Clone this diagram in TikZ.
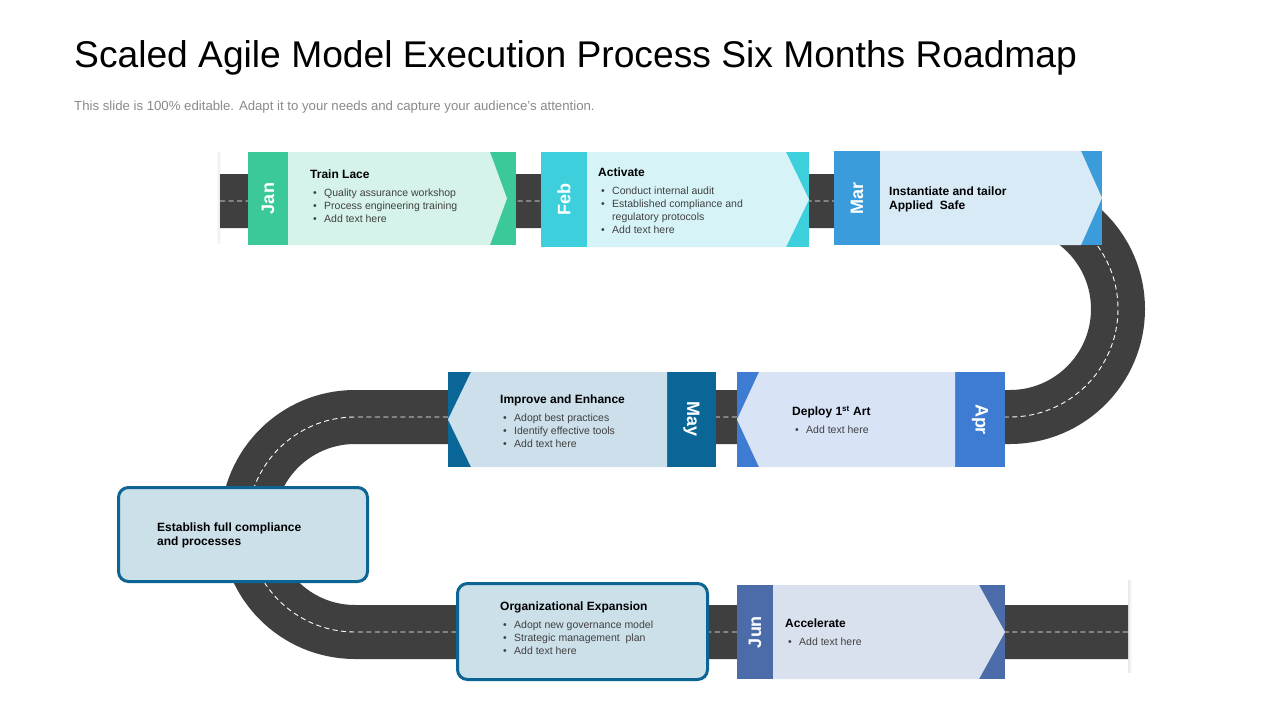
\documentclass[tikz,border=0pt]{standalone}
\usepackage{fontspec}
\setmainfont{Liberation Sans}
\definecolor{road}{HTML}{3F3F3F}
\definecolor{janS}{HTML}{3CC999}
\definecolor{janL}{HTML}{D5F3EA}
\definecolor{febS}{HTML}{3ECFDD}
\definecolor{febL}{HTML}{D6F4F8}
\definecolor{marS}{HTML}{3A9CDB}
\definecolor{marL}{HTML}{D7EAF6}
\definecolor{aprS}{HTML}{3E7BD3}
\definecolor{aprL}{HTML}{D8E3F6}
\definecolor{mayS}{HTML}{0B6698}
\definecolor{mayL}{HTML}{CCDFEA}
\definecolor{junS}{HTML}{4B6CA9}
\definecolor{junL}{HTML}{DAE1EE}
\definecolor{boxfill}{HTML}{CCE0EA}
\definecolor{boxline}{HTML}{0D6593}
\definecolor{bodytxt}{HTML}{404040}
\definecolor{subtxt}{HTML}{8A8A8A}
\newcommand\bl[1]{\hspace*{3pt}\makebox[11pt][l]{\textbullet}#1}
\newcommand\blc[1]{\hspace*{14pt}#1}
\begin{document}
\begin{tikzpicture}[x=1pt,y=-1pt,
  txt/.style={anchor=north west, inner sep=0pt, align=left, font=\fontsize{10.5}{13}\selectfont, text=bodytxt},
  hdtxt/.style={anchor=north west, inner sep=0pt, align=left, font=\bfseries\fontsize{12}{14}\selectfont, text=black},
  mon/.style={text=white, font=\bfseries\fontsize{18}{18}\selectfont, inner sep=0pt},
  cbox/.style={fill=boxfill, draw=boxline, line width=3pt, rounded corners=10pt}
]
\useasboundingbox (0,0) rectangle (1280,720);
\fill[white] (0,0) rectangle (1280,720);

% title
\node[anchor=base west, inner sep=0pt, font=\fontsize{37.2}{40}\selectfont] (title) at (74,67)
  {Scaled Agile Model Execution Process Six Months Roadmap};
\node[anchor=base west, inner sep=0pt, font=\fontsize{13.2}{15}\selectfont, text=subtxt] (subtitle) at (74,110)
  {This slide is 100\% editable. Adapt it to your needs and capture your audience's attention.};

% road end shadows
\shade[left color=white, right color=black!9] (216,152) rectangle (220,243);
\shade[left color=black!9, right color=white] (1128,580) rectangle (1132,672);

% road
\draw[road, line width=54pt, postaction={draw=white, line width=0.9pt, dash pattern=on 5pt off 3.5pt}]
  (220,201) -- (1010,201)
  .. controls (1069.6,201) and (1118,249.4) .. (1118,309)
  .. controls (1118,368.6) and (1069.6,417) .. (1010,417)
  -- (355,417)
  .. controls (295.6,417) and (247.5,465.1) .. (247.5,524.5)
  .. controls (247.5,583.9) and (295.6,632) .. (355,632)
  -- (1128,632);

% Jan
\fill[janS] (248,152) rectangle (516,245);
\fill[janL] (288,152) -- (490,152) -- (507,198.5) -- (490,245) -- (288,245) -- cycle;
\node[mon, rotate=90] (jan) at (268,198.5) {Jan};
% Feb
\fill[febS] (541,152) rectangle (809,247);
\fill[febL] (587,152) -- (786,152) -- (809,199.5) -- (786,247) -- (587,247) -- cycle;
\node[mon, rotate=90] (feb) at (564,199.5) {Feb};
% Mar
\fill[marS] (834,151) rectangle (1102,245);
\fill[marL] (880,151) -- (1081,151) -- (1102,198) -- (1081,245) -- (880,245) -- cycle;
\node[mon, rotate=90] (mar) at (857,198) {Mar};
% Apr
\fill[aprS] (737,372) rectangle (1005,467);
\fill[aprL] (759,372) -- (955,372) -- (955,467) -- (759,467) -- (737,419.5) -- cycle;
\node[mon, rotate=-90] (apr) at (980,419.5) {Apr};
% May
\fill[mayS] (448,372) rectangle (716,467);
\fill[mayL] (471,372) -- (667,372) -- (667,467) -- (471,467) -- (448,419.5) -- cycle;
\node[mon, rotate=-90] (may) at (691.5,419.5) {May};
% Jun
\fill[junS] (737,585) rectangle (1005,679);
\fill[junL] (773,585) -- (979,585) -- (1005,632) -- (979,679) -- (773,679) -- cycle;
\node[mon, rotate=90] (jun) at (755,632) {Jun};

% rounded boxes
\draw[cbox] (118.5,487.5) rectangle (367.5,581.5);
\draw[cbox] (457.5,583.5) rectangle (707.5,679.5);

% texts
\node[hdtxt] (janh) at (310,169.7) {Train Lace};
\node[txt] (janb) at (310,188.5) {\bl{Quality assurance workshop}\\\bl{Process engineering training}\\\bl{Add text here}};

\node[hdtxt] (febh) at (598,167.7) {Activate};
\node[txt] (febb) at (598,186.5) {\bl{Conduct internal audit}\\\bl{Established compliance and}\\\blc{regulatory protocols}\\\bl{Add text here}};

\node[hdtxt] (marh) at (889,186.7) {Instantiate and tailor\\Applied\ \ Safe};

\node[hdtxt] (aprh) at (792,406.7) {Deploy 1\smash{\textsuperscript{st}} Art};
\node[txt] (aprb) at (792,425.5) {\bl{Add text here}};

\node[hdtxt] (mayh) at (500,394.7) {Improve and Enhance};
\node[txt] (mayb) at (500,413.5) {\bl{Adopt best practices}\\\bl{Identify effective tools}\\\bl{Add text here}};

\node[hdtxt] (esth) at (157,522.7) {Establish full compliance\\and processes};

\node[hdtxt] (orgh) at (500,601.7) {Organizational Expansion};
\node[txt] (orgb) at (500,620.5) {\bl{Adopt new governance model}\\\bl{Strategic management\ \ plan}\\\bl{Add text here}};

\node[hdtxt] (junh) at (785,618.7) {Accelerate};
\node[txt] (junb) at (785,637.5) {\bl{Add text here}};
\end{tikzpicture}
\end{document}
